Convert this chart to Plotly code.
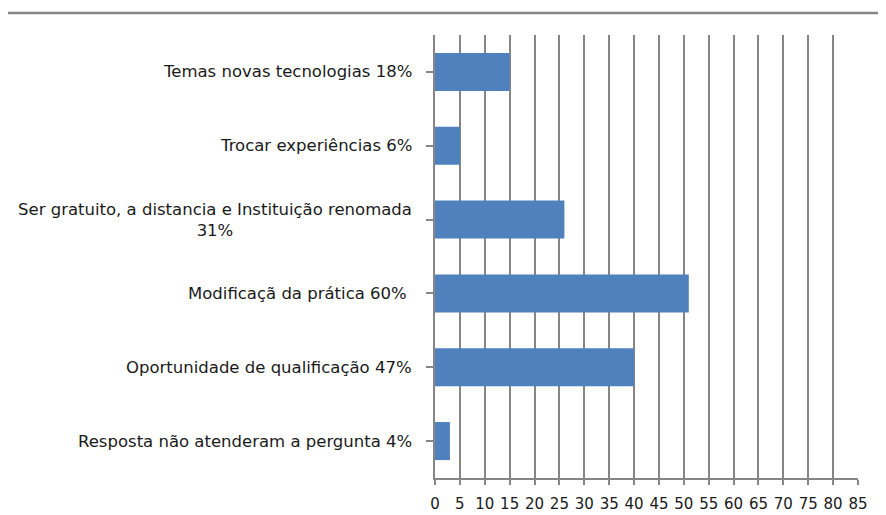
import plotly.graph_objects as go

categories = [
    "Temas novas tecnologias 18%",
    "Trocar experiências 6%",
    "Ser gratuito, a distancia e Instituição renomada<br>31%",
    "Modificaçã da prática 60%&nbsp;",
    "Oportunidade de qualificação 47%",
    "Resposta não atenderam a pergunta 4%",
]
values = [15, 5, 26, 51, 40, 3]
x_ticks = list(range(0, 90, 5))

GRAY = "#868686"
FONT = "DejaVu Sans, Liberation Sans, sans-serif"

# page body has an 8px margin; figure is offset by it inside the 886x515 window
W, H = 878, 507
L, T = 427, 27
PW, PH = 423, 443

fig = go.Figure(
    go.Bar(
        y=list(range(len(categories))),
        x=values,
        orientation="h",
        marker=dict(color="#4F81BD", line=dict(width=0)),
        hoverinfo="x",
    )
)

for i, c in enumerate(categories):
    fig.add_annotation(
        x=0, xref="paper", y=i, yref="y",
        text=c, showarrow=False, xanchor="right", yanchor="middle",
        align="center", xshift=-21,
        font=dict(family=FONT, size=16.5, color="#1a1a1a"),
    )

fig.add_shape(type="line", xref="paper", yref="paper",
              x0=-L / PW, x1=(W - L) / PW, y0=1 + 22 / PH, y1=1 + 22 / PH,
              line=dict(color=GRAY, width=2.5))

fig.update_layout(
    width=W, height=H,
    margin=dict(l=L, r=W - L - PW, t=T, b=H - T - PH, pad=0, autoexpand=False),
    paper_bgcolor="white", plot_bgcolor="white",
    bargap=0.485,
    showlegend=False,
    xaxis=dict(
        range=[0, 85], tickvals=x_ticks, ticktext=[str(v) for v in x_ticks],
        showgrid=True, gridcolor=GRAY, gridwidth=1.8,
        showline=True, linecolor=GRAY, linewidth=1.8,
        ticks="outside", ticklen=5, tickcolor=GRAY, tickwidth=1.8,
        ticklabelstandoff=6, automargin=False,
        tickfont=dict(family=FONT, size=15, color="#1a1a1a"),
        zeroline=False, fixedrange=True,
    ),
    yaxis=dict(
        range=[len(categories) - 0.5, -0.5],
        tickvals=list(range(len(categories))),
        showticklabels=False, automargin=False,
        ticks="outside", tickson="boundaries", ticklen=7, tickcolor=GRAY, tickwidth=1.8,
        showline=True, linecolor=GRAY, linewidth=1.8,
        showgrid=False, zeroline=False, fixedrange=True,
    ),
)

fig.write_html("out.html")
